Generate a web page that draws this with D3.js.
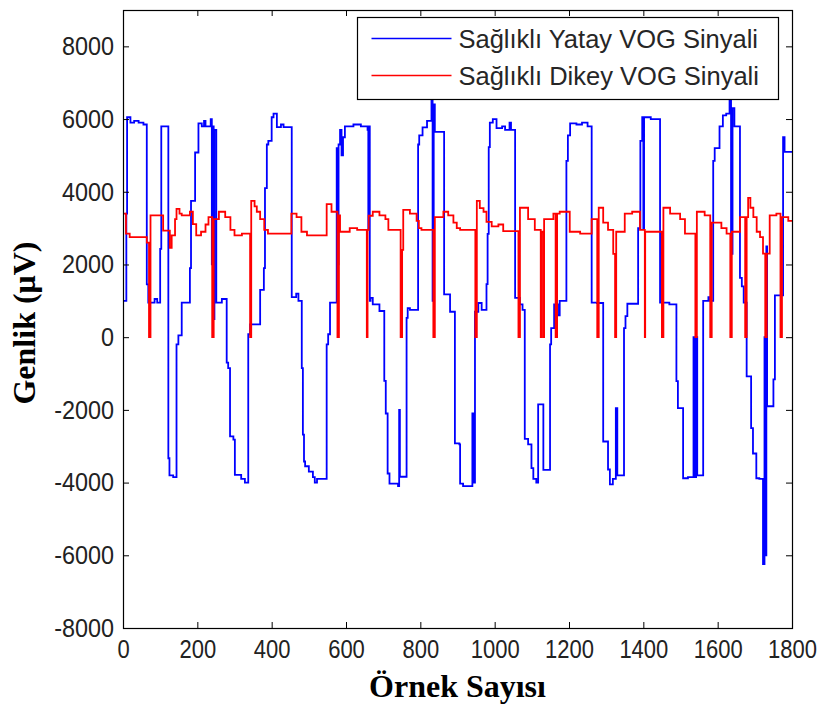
<!DOCTYPE html>
<html lang="tr">
  <head>
    <meta charset="UTF-8" />
    <title>Sağlıklı VOG Sinyalleri</title>
    <script src="https://d3js.org/d3.v7.min.js"></script>
    <style>
      body {
        margin: 0;
        background: #fff;
      }
      .tick text {
        font-family: "Liberation Sans", Arial, sans-serif;
        font-size: 26px;
        fill: #222;
      }
      .x-axis .tick text {
        font-size: 25px;
      }
      .axis-title {
        font-family: "Liberation Serif", "Times New Roman", serif;
        font-weight: bold;
        font-size: 32px;
        fill: #000;
      }
      .legend-text {
        font-family: "Liberation Sans", Arial, sans-serif;
        font-size: 25.5px;
        fill: #262626;
      }
    </style>
  </head>
  <body>
    <div id="chart"></div>

    <script>
      // eksen etiketleri
      const xTicks = [0, 200, 400, 600, 800, 1000, 1200, 1400, 1600, 1800];
      const yTicks = [-8000, -6000, -4000, -2000, 0, 2000, 4000, 6000, 8000];
      const seriesNames = ["Sağlıklı Yatay VOG Sinyali", "Sağlıklı Dikey VOG Sinyali"];

      // yatay sinyal: [örnek, genlik] basamakları (bir sonraki örneğe kadar sabit)
      const yatay = [
        [0, 1000], [9, 3400], [11, 6050], [20, 5900], [30, 5950], [42, 5900], [55, 5850],
        [64, 1450], [68, 950], [85, 1050], [92, 950],
        [100, 2430], [103, 5800],
        [122, -3330], [125, -3800], [135, -3850],
        [144, -200], [149, 50], [158, 950],
        [180, 1900], [183, 3750], [194, 5080], [203, 5880], [212, 5800], [218, 5950], [222, 5800],
        [236, 6000], [239, 2000], [241, 5800], [244, 500], [246, 5700],
        [251, 950], [266, 1050], [279, -700], [283, -850], [288, -2730], [297, -2820],
        [301, -3790], [318, -3900], [328, -4000],
        [337, 80], [342, 350], [369, 1300], [379, 1900], [382, 4100], [387, 5300], [391, 5400],
        [400, 6050], [405, 6150], [414, 5780], [425, 5850], [432, 5780],
        [454, 1100], [466, 1200], [472, 1000],
        [481, -850], [484, -2680], [487, -3420], [490, -3550], [500, -3700], [511, -3850],
        [516, -4000], [522, -3900],
        [548, -200], [552, 80], [557, 950],
        [575, 5200], [578, 2000], [580, 5300], [584, 5700], [588, 5000], [592, 5500],
        [597, 5800], [620, 5850], [640, 5800],
        [658, 5700], [660, 3000], [662, 5800], [664, 1000], [666, 1080], [672, 900], [690, 720],
        [703, -1200], [707, -2100], [712, -3750], [717, -4030], [740, -4100], [743, -2000], [745, -3840],
        [763, 530], [766, 800], [772, 750],
        [794, 5300], [797, 5550], [806, 5770], [818, 5950], [830, 6500], [833, 1000], [836, 6400], [839, 5650],
        [864, 1180], [880, 700],
        [893, -2920], [905, -2950], [907, -4030], [915, -4100], [940, -2100], [943, -4000],
        [947, 700], [956, 940], [965, 750],
        [978, 1460], [981, 2840], [984, 5230], [987, 5900], [995, 6000], [1005, 5750],
        [1020, 5800], [1028, 5700], [1040, 5900], [1044, 5700],
        [1055, 1080], [1068, 900], [1075, 750],
        [1081, -2800], [1090, -2950], [1099, -3600], [1104, -3900], [1112, -4000],
        [1117, -1850], [1131, -3650],
        [1149, -200], [1152, 250], [1160, 900], [1170, 600], [1175, 1000],
        [1193, 4850], [1197, 5550], [1203, 5880], [1220, 5850], [1235, 5900], [1250, 5800],
        [1261, 950], [1275, 940],
        [1292, -2870], [1305, -3640], [1310, -4050], [1318, -3900], [1326, -1950], [1330, -3800],
        [1348, 250], [1352, 580], [1357, 920],
        [1386, 3000], [1392, 5400], [1397, 6050], [1400, 3000], [1402, 6050], [1420, 6000],
        [1445, 950], [1470, 900],
        [1489, -1210], [1493, -1950], [1507, -3880], [1520, -3850], [1535, 0], [1538, -3850],
        [1542, 0], [1545, -3800],
        [1561, 1000], [1575, 1100], [1578, 1000],
        [1588, 4850], [1592, 5200], [1605, 5800], [1614, 6100], [1623, 6150], [1632, 6500],
        [1636, 2290], [1640, 6300], [1645, 5800],
        [1660, 1630], [1665, 1400], [1670, 950],
        [1678, -1080], [1690, -2500], [1695, -3200], [1704, -3880], [1712, -3900],
        [1722, -6240], [1726, 0], [1728, -6000], [1731, 2500],
        [1733, -1900], [1750, -1160], [1754, 1150], [1776, 5500], [1780, 5100], [1800, 5100]
      ];

      // dikey sinyal: [örnek, genlik]
      const dikey = [
        [0, 3400], [8, 2850], [18, 2750], [64, 2600], [70, 0], [74, 3350], [108, 2930],
        [126, 2460], [131, 2800], [140, 3250], [144, 3530], [152, 3400], [158, 3350],
        [180, 3450], [188, 3110], [197, 2800], [210, 2900], [222, 3100], [230, 3300],
        [240, 0], [244, 3250], [258, 3450], [275, 3300], [289, 2950], [300, 2800], [320, 2850],
        [342, 0], [345, 3750], [354, 3600], [360, 3450], [369, 3250], [380, 2950], [390, 2850],
        [453, 3400], [467, 3300], [480, 2900], [495, 2800], [548, 3660], [561, 3450],
        [577, 0], [581, 3350], [584, 2900], [610, 3000], [630, 2950], [656, 0], [658, 2950],
        [661, 3340], [672, 3450], [690, 3350], [706, 3250], [714, 2950],
        [747, 0], [751, 2400], [754, 3500], [772, 3400], [790, 3200], [796, 3000], [803, 2950],
        [835, 0], [839, 3300], [862, 3450], [875, 3350], [889, 3150], [898, 3000], [907, 2950],
        [948, 0], [952, 3750], [960, 3550], [970, 3450], [978, 3170], [992, 3050], [1010, 3100],
        [1023, 2920], [1064, 0], [1068, 3560], [1090, 3250], [1108, 2950],
        [1124, 0], [1126, 2900], [1131, 0], [1133, 3250], [1158, 3400], [1164, 0], [1168, 3400],
        [1175, 3450], [1202, 2900], [1230, 2850], [1261, 3250], [1276, 0], [1280, 3560],
        [1292, 3150], [1305, 2950], [1319, 2290], [1324, 0], [1327, 2900], [1350, 3400],
        [1370, 3450], [1391, 2950], [1404, 0], [1405, 2900], [1450, 0], [1454, 3560],
        [1472, 3400], [1499, 3250], [1512, 2850], [1540, 0], [1544, 3450], [1565, 3350],
        [1580, 0], [1584, 3150], [1610, 3000], [1624, 2850], [1634, 0], [1638, 2900],
        [1660, 3300], [1674, 0], [1678, 3300], [1682, 3830], [1688, 3560], [1696, 3300],
        [1705, 2900], [1714, 2750], [1722, 2300], [1728, 0], [1732, 2300], [1740, 3350],
        [1758, 3400], [1769, 0], [1773, 3300], [1790, 3200], [1800, 3200]
      ];

      const margin = { top: 10, right: 25, bottom: 78, left: 123 },
        width = 817 - margin.left - margin.right,
        height = 706 - margin.top - margin.bottom;

      const svg = d3
        .select("#chart")
        .append("svg")
        .attr("width", 817)
        .attr("height", 706);

      const g = svg
        .append("g")
        .attr("transform", `translate(${margin.left},${margin.top})`);

      const x = d3.scaleLinear().domain([0, 1800]).range([0, width]);
      const y = d3.scaleLinear().domain([-8000, 9000]).range([height, 0]);

      g.append("clipPath")
        .attr("id", "clip")
        .append("rect")
        .attr("width", width)
        .attr("height", height);

      const line = d3
        .line()
        .x((d) => x(d[0]))
        .y((d) => y(d[1]))
        .curve(d3.curveStepAfter);

      const plot = g.append("g").attr("clip-path", "url(#clip)");

      plot
        .append("path")
        .datum(yatay)
        .attr("fill", "none")
        .attr("stroke", "#0000ff")
        .attr("stroke-width", 1.8)
        .attr("d", line);

      plot
        .append("path")
        .datum(dikey)
        .attr("fill", "none")
        .attr("stroke", "#ff0000")
        .attr("stroke-width", 1.8)
        .attr("d", line);

      // eksenler (içe dönük çentikler, kutu çerçeve), eksi işareti düz tire
      const fmt = (d) => String(d);

      g.append("g")
        .attr("class", "x-axis")
        .attr("transform", `translate(0,${height})`)
        .call(d3.axisBottom(x).tickValues(xTicks).tickFormat(fmt).tickSize(-6).tickPadding(12));

      g.append("g")
        .attr("class", "y-axis")
        .call(d3.axisLeft(y).tickValues(yTicks).tickFormat(fmt).tickSize(-6).tickPadding(10));

      g.append("g")
        .call(d3.axisTop(x).tickValues(xTicks).tickSize(-6).tickFormat(""));

      g.append("g")
        .attr("transform", `translate(${width},0)`)
        .call(d3.axisRight(y).tickValues(yTicks).tickSize(-6).tickFormat(""));

      g.selectAll(".domain").remove();
      g.selectAll(".tick line").attr("stroke", "#000");
      g.selectAll(".y-axis .tick text").attr("transform", "scale(0.9,1)");
      g.selectAll(".x-axis .tick text").attr("transform", "scale(0.88,1)");

      g.append("rect")
        .attr("x", 0.5)
        .attr("y", 0.5)
        .attr("width", width)
        .attr("height", height)
        .attr("fill", "none")
        .attr("stroke", "#000")
        .attr("stroke-width", 1.2);

      // lejant
      const legend = svg.append("g").attr("transform", "translate(357.5,17.5)");
      legend
        .append("rect")
        .attr("width", 421)
        .attr("height", 82)
        .attr("fill", "#fff")
        .attr("stroke", "#000")
        .attr("stroke-width", 1.2);

      const legendColors = ["#0000ff", "#ff0000"];
      seriesNames.forEach((name, i) => {
        const ly = 21 + i * 37;
        legend
          .append("line")
          .attr("x1", 14)
          .attr("x2", 94)
          .attr("y1", ly)
          .attr("y2", ly)
          .attr("stroke", legendColors[i])
          .attr("stroke-width", 1.5);
        legend
          .append("text")
          .attr("class", "legend-text")
          .attr("x", 101)
          .attr("y", ly + 9.5)
          .text(name);
      });

      // eksen başlıkları
      svg
        .append("text")
        .attr("class", "axis-title")
        .attr("x", margin.left + width / 2)
        .attr("y", 697)
        .attr("text-anchor", "middle")
        .text("Örnek Sayısı");

      svg
        .append("text")
        .attr("class", "axis-title")
        .attr("transform", `translate(35,${margin.top + height / 2 + 4}) rotate(-90)`)
        .attr("text-anchor", "middle")
        .text("Genlik (μV)");
    </script>
  </body>
</html>
